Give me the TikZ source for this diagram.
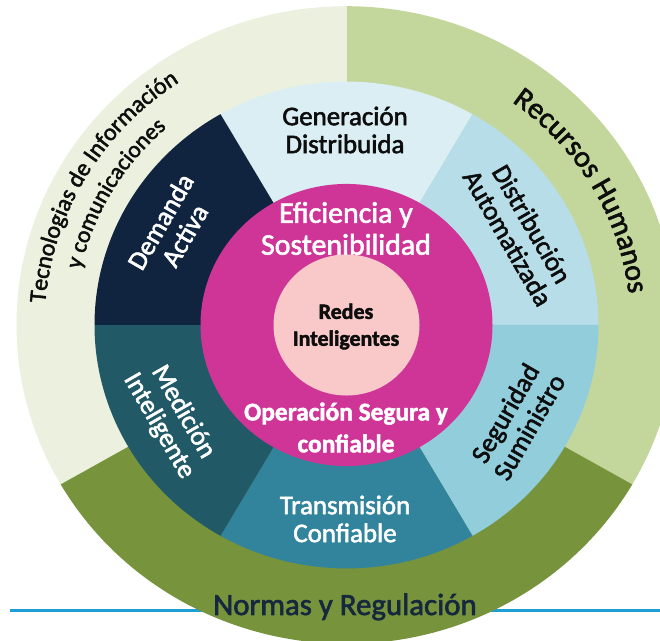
\documentclass[tikz,border=0pt]{standalone}
\usepackage{fontspec}
\setmainfont{Carlito}[RawFeature={embolden=2}]
\usetikzlibrary{decorations.text,calc}

\definecolor{tecno}{HTML}{EBF1DE}
\definecolor{recursos}{HTML}{C3D69B}
\definecolor{normas}{HTML}{77933C}
\definecolor{gen}{HTML}{DAEEF3}
\definecolor{dist}{HTML}{B7DEE8}
\definecolor{segu}{HTML}{92CDDC}
\definecolor{trans}{HTML}{31849B}
\definecolor{medi}{HTML}{215967}
\definecolor{dema}{HTML}{10243F}
\definecolor{magen}{HTML}{CF3597}
\definecolor{rosa}{HTML}{F9C9C9}
\definecolor{linea}{HTML}{1F9ED6}
\definecolor{navy}{HTML}{16283D}
\definecolor{negro}{HTML}{0D0D0D}

\newcommand\mysector[4]{\fill[#1] (0,0) -- (#2:#4) arc[start angle=#2, end angle=#3, radius=#4] -- cycle;}

\tikzset{
  lbl/.style={align=center, inner sep=0pt, font=\fontsize{27}{28}\selectfont},
  midlbl/.style={align=center, inner sep=0pt, font=\fontsize{30}{32}\selectfont},
  boldlbl/.style={align=center, inner sep=0pt},
  curvetext/.style={decorate, decoration={text along path, text align=center, text color=negro, text={#1}}}
}

\begin{document}
\begin{tikzpicture}[x=1bp,y=1bp]
\useasboundingbox (0,0) rectangle (660,641);
\clip (0,0) rectangle (660,641);
\fill[white] (0,0) rectangle (660,641);

\coordinate (C) at (346.5,316);
\coordinate (lineL) at (10,30);
\coordinate (lineR) at (660,30);
\draw[linea, line width=3bp] (lineL) -- (lineR);

\begin{scope}[shift={(C)}, yscale=0.966]
  \mysector{recursos}{-30}{90}{330}
  \mysector{tecno}{90}{210}{330}
  \mysector{normas}{210}{330}{330}
  \mysector{gen}{60}{120}{252}
  \mysector{dist}{0}{60}{252}
  \mysector{segu}{-60}{0}{252}
  \mysector{trans}{-120}{-60}{252}
  \mysector{medi}{-180}{-120}{252}
  \mysector{dema}{120}{180}{252}
  \fill[magen] (0,0) circle[radius=146];
  \fill[rosa] (0,0) circle[radius=73];
\end{scope}

% curved texts on the outer ring
\path[curvetext={|\fontsize{24}{25}\selectfont|Tecnologias de Información}]
  ($(C)+(200:302 and 291.7)$) arc[start angle=200, end angle=100, x radius=302, y radius=291.7];
\path[curvetext={|\fontsize{23.5}{24}\selectfont|y comunicaciones}]
  ($(C)+(200:272 and 262.8)$) arc[start angle=200, end angle=100, x radius=272, y radius=262.8];
\path[curvetext={|\fontsize{30}{32}\selectfont|Recursos Humanos}]
  ($(C)+(85:284 and 274.3)$) arc[start angle=85, end angle=-25, x radius=284, y radius=274.3];

\node[anchor=base, inner sep=0pt, font=\fontsize{31}{31}\selectfont, text=navy] (normasT) at (345,26) {Normas y Regulación};

% segment labels
\node[lbl, text=negro] (genT) at (345,511) {Generación\\Distribuida};
\node[lbl, text=negro, rotate=-60] (disT) at (520,410) {Distribución\\Automatizada};
\node[lbl, text=negro, rotate=60] (segT) at (517,221) {Seguridad\\Suministro};
\node[lbl, text=white] (traT) at (345,122) {Transmisión\\Confiable};
\node[lbl, text=white, rotate=-60] (medT) at (171,222) {Medición\\Inteligente};
\node[lbl, text=white, rotate=60] (demT) at (172.5,412.5) {Demanda\\Activa};

% inner circles
\node[midlbl, text=white] (efiT) at (346,412.5) {Eficiencia y\\Sostenibilidad};
\node[boldlbl, text=white, font=\fontsize{25.5}{32}\selectfont\bfseries] (opeT) at (346,213.5) {Operación Segura y\\confiable};
\node[boldlbl, text=negro, font=\fontsize{22}{27}\selectfont\bfseries] (redT) at (346,314.5) {Redes\\Inteligentes};
\end{tikzpicture}
\end{document}
